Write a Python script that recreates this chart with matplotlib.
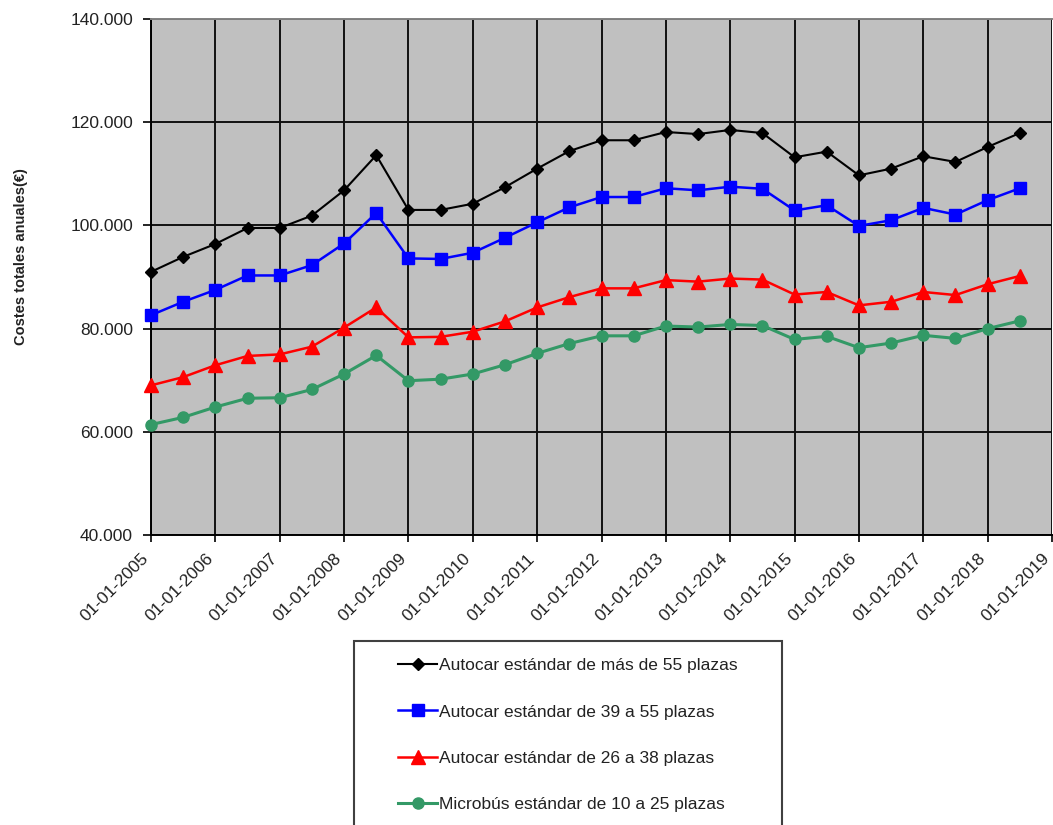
import numpy as np
import matplotlib
matplotlib.use("Agg")
import matplotlib.pyplot as plt
from matplotlib.ticker import FuncFormatter, MultipleLocator
from matplotlib.patches import Rectangle
from matplotlib.transforms import ScaledTranslation, blended_transform_factory

# Annual total costs (EUR), half-yearly observations from 01-01-2005 to 01-07-2018
tick_labels = ["01-01-%d" % y for y in range(2005, 2020)]

series_names = [
    "Autocar estándar de más de 55 plazas",
    "Autocar estándar de 39 a 55 plazas",
    "Autocar estándar de 26 a 38 plazas",
    "Microbús estándar de 10 a 25 plazas",
]

mas_55 = [91.0, 93.9, 96.4, 99.5, 99.5, 101.9, 106.8, 113.6, 103.0, 103.0,
          104.2, 107.4, 111.0, 114.4, 116.5, 116.5, 118.1, 117.7, 118.5, 117.9,
          113.2, 114.3, 109.7, 111.0, 113.4, 112.3, 115.2, 117.9]
de_39_55 = [82.6, 85.2, 87.5, 90.3, 90.3, 92.3, 96.5, 102.4, 93.6, 93.5,
            94.7, 97.6, 100.6, 103.5, 105.5, 105.5, 107.2, 106.8, 107.5, 107.1,
            102.9, 103.9, 99.9, 101.0, 103.4, 102.1, 104.9, 107.2]
de_26_38 = [69.0, 70.6, 72.9, 74.7, 75.0, 76.5, 80.2, 84.1, 78.3, 78.4,
            79.4, 81.4, 84.1, 86.1, 87.8, 87.8, 89.4, 89.1, 89.7, 89.5,
            86.6, 87.1, 84.5, 85.2, 87.1, 86.5, 88.6, 90.2]
micro_10_25 = [61.4, 62.8, 64.8, 66.5, 66.6, 68.2, 71.2, 74.8, 69.9, 70.2,
               71.2, 73.0, 75.2, 77.1, 78.6, 78.6, 80.5, 80.3, 80.8, 80.6,
               77.9, 78.5, 76.3, 77.2, 78.7, 78.1, 80.0, 81.5]

plt.rcParams["font.family"] = ["Liberation Sans", "DejaVu Sans"]

W, H = 1053, 825
fig = plt.figure(figsize=(W / 100, H / 100), dpi=100)
ax = fig.add_axes([151 / W, (H - 535) / H, (1052 - 151) / W, (535 - 19) / H])
ax.set_facecolor("#C0C0C0")

styles = [
    dict(color="black", marker="D", ms=6.5, lw=1.5),
    dict(color="#0000FF", marker="s", ms=8.5, lw=1.8),
    dict(color="#FF0000", marker="^", ms=9.5, lw=1.8),
    dict(color="#339966", marker="o", ms=8, lw=2.2),
]
data = [mas_55, de_39_55, de_26_38, micro_10_25]
handles = []
for name, vals, st in zip(series_names, data, styles):
    x = np.arange(len(vals))
    h, = ax.plot(x, np.array(vals) * 1000, color=st["color"], lw=st["lw"],
                 marker=st["marker"], ms=st["ms"], mfc=st["color"],
                 mec=st["color"], mew=1, label=name, zorder=3,
                 clip_on=False)
    handles.append(h)

ax.set_xlim(0, 28)
ax.set_ylim(40000, 140000)
xticks = np.arange(0, 29, 2)
ax.set_xticks(xticks)
ax.set_xticklabels([])

# Rotated date labels, anchored just below each tick
lbl_tr = blended_transform_factory(ax.transData, ax.transAxes) + \
    ScaledTranslation(-10 / 100, -16 / 100, fig.dpi_scale_trans)
for xt, txt in zip(xticks, tick_labels):
    ax.text(xt, 0, txt, transform=lbl_tr, rotation=45, ha="right", va="top",
            rotation_mode="anchor", fontsize=12.5, color="#222222",
            clip_on=False)

ax.yaxis.set_major_locator(MultipleLocator(20000))
ax.yaxis.set_major_formatter(FuncFormatter(lambda v, p: f"{int(v):,}".replace(",", ".")))
ax.tick_params(axis="y", labelsize=12.5, length=6, width=1.2, pad=7, colors="black")
ax.tick_params(axis="x", length=5, width=1.2, colors="black")
for lbl in ax.get_yticklabels():
    lbl.set_color("#222222")

ax.set_axisbelow(True)
ax.grid(True, color="#111111", lw=1.4)
for side in ["left", "bottom"]:
    ax.spines[side].set_color("black")
    ax.spines[side].set_linewidth(1.4)
ax.spines["top"].set_color("#808080")
ax.spines["top"].set_linewidth(1.4)
ax.spines["right"].set_visible(False)

fig.text(21 / W, 1 - 257 / H, "Costes totales anuales(€)", rotation=90,
         ha="center", va="center", fontsize=10.5, fontweight="bold",
         color="#222222")

# Legend frame below the plot
fig.patches.append(Rectangle((354 / W, -20 / H), (782 - 354) / W, (H - 641 + 20) / H,
                             transform=fig.transFigure, fill=False,
                             edgecolor="#404040", lw=1.5))
leg = fig.legend(handles=handles, loc="upper left",
                 bbox_to_anchor=(398 / W, 1 - 658 / H), frameon=False,
                 fontsize=12.5, handlelength=2.25, handletextpad=0.1,
                 borderpad=0, borderaxespad=0, labelspacing=1.8)
for t in leg.get_texts():
    t.set_color("#222222")

fig.savefig("out.png", dpi=100)
